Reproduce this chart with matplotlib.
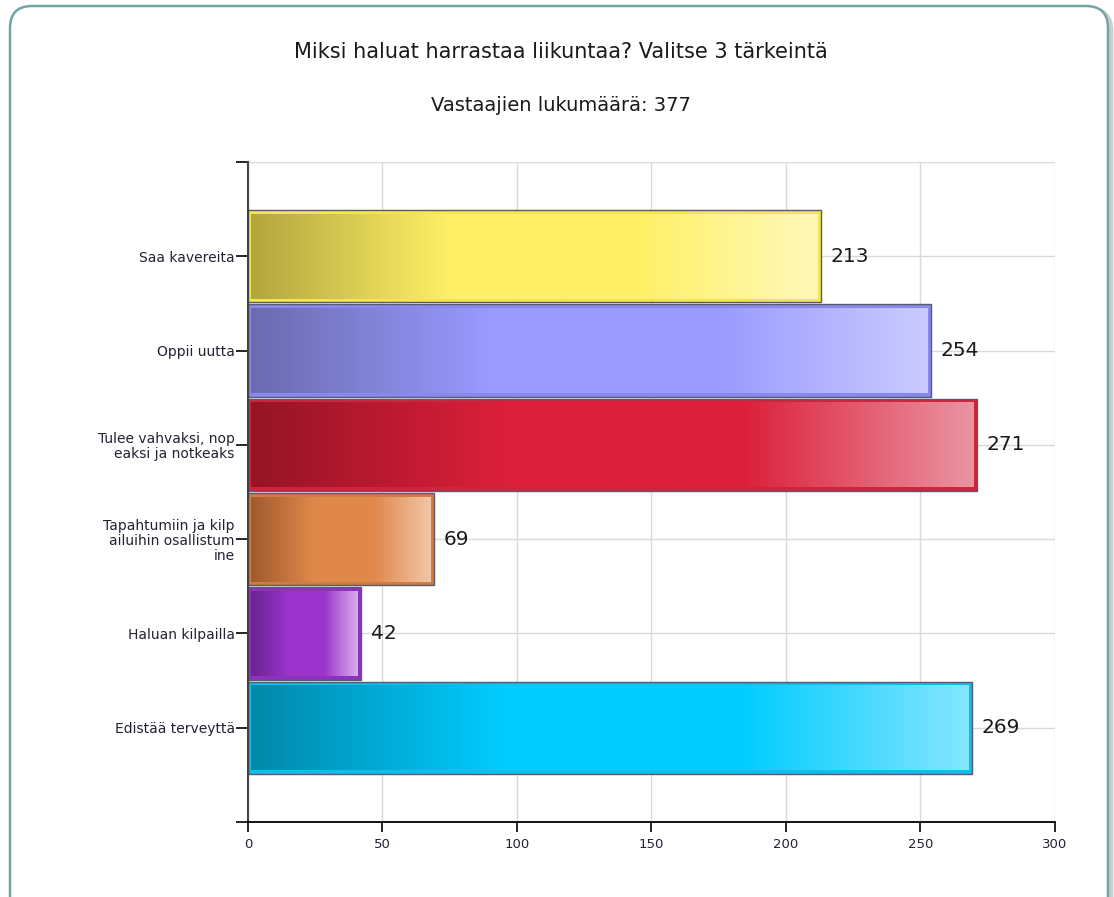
import numpy as np
import matplotlib.pyplot as plt
from matplotlib.colors import LinearSegmentedColormap
from matplotlib.patches import FancyBboxPatch

# data
categories = ['Saa kavereita', 'Oppii uutta', 'Tulee vahvaksi, nop\neaksi ja notkeaks',
              'Tapahtumiin ja kilp\nailuihin osallistum\nine', 'Haluan kilpailla',
              'Edistää terveyttä']
counts = [213, 254, 271, 69, 42, 269]
base_colors = ['#fff066', '#9999ff', '#dc1f3a', '#e0884a', '#9b33cc', '#00ccff']
dark_colors = ['#b2a63e', '#6b6bb0', '#961426', '#a05a2e', '#6a2390', '#0088aa']
light_colors = ['#fff8b8', '#cacaff', '#ea94a2', '#f2c6a8', '#d8aeea', '#84e6ff']
border_colors = ['#f5e650', '#8888ee', '#d0243c', '#d07c42', '#8e30c0', '#12bde8']
title = 'Miksi haluat harrastaa liikuntaa? Valitse 3 tärkeintä'
subtitle = 'Vastaajien lukumäärä: 377'

fig = plt.figure(figsize=(11.14, 8.97), dpi=100)

# rounded frame with a little shadow
shadow = FancyBboxPatch((0.13, -0.3), 10.98, 9.18, boxstyle='round,pad=0,rounding_size=0.22',
                        transform=fig.dpi_scale_trans, facecolor='none', edgecolor='#cfcfcf',
                        linewidth=3.5, zorder=-10)
frame = FancyBboxPatch((0.10, -0.27), 10.98, 9.18, boxstyle='round,pad=0,rounding_size=0.22',
                       transform=fig.dpi_scale_trans, facecolor='white', edgecolor='#72a6a6',
                       linewidth=1.8, zorder=-9)
fig.patches.append(shadow)
fig.patches.append(frame)

fig.text(0.5036, 0.942, title, ha='center', va='center', fontsize=15, color='#1a1a1a')
fig.text(0.5036, 0.882, subtitle, ha='center', va='center', fontsize=14, color='#1a1a1a')

ax = fig.add_axes([0.2226, 0.0836, 0.7244, 0.7358])
ax.set_facecolor('none')

ypos = np.arange(1, len(categories) + 1)
bars = ax.barh(ypos, counts, height=0.98, color=border_colors, edgecolor='#5a5a6e',
               linewidth=1.0, zorder=2)

# gradient fill inside each bar
dx, dy = 1.2, 0.04
grad = np.linspace(0, 1, 256).reshape(1, -1)
for bar, c0, c1, c2 in zip(bars, dark_colors, base_colors, light_colors):
    cmap = LinearSegmentedColormap.from_list('g', [(0, c0), (0.35, c1), (0.68, c1), (1, c2)])
    x0, y0 = bar.get_x(), bar.get_y()
    w, h = bar.get_width(), bar.get_height()
    ax.imshow(grad, cmap=cmap, aspect='auto', zorder=2.5,
              extent=(x0 + dx, x0 + w - dx, y0 + h - dy, y0 + dy))

ax.bar_label(bars, labels=[str(v) for v in counts], padding=7, fontsize=14.5,
             color='#1a1a1a', zorder=3)

ax.set_xlim(0, 300)
ax.set_ylim(7, 0)
ax.set_xticks(np.arange(0, 301, 50))
ax.set_yticks(ypos)
ax.set_yticklabels(categories, fontsize=10, color='#222233', linespacing=1.1)
ax.set_yticks([0, 7], minor=True)
ax.tick_params(axis='x', labelsize=9.5, colors='#222233', length=7.5, width=1.2, pad=4)
ax.tick_params(axis='y', length=9, width=1.2, pad=0.5)
ax.tick_params(axis='y', which='minor', length=9, width=1.2)
ax.tick_params(axis='x', color='black')

ax.set_axisbelow(True)
ax.grid(True, which='both', color='#d9d9d9', linewidth=1.0)
for s in ['top', 'right']:
    ax.spines[s].set_visible(False)
ax.spines['left'].set_color('#444444')
ax.spines['left'].set_linewidth(1.5)
ax.spines['bottom'].set_color('black')
ax.spines['bottom'].set_linewidth(1.3)

fig.savefig('out.png', dpi=100)
